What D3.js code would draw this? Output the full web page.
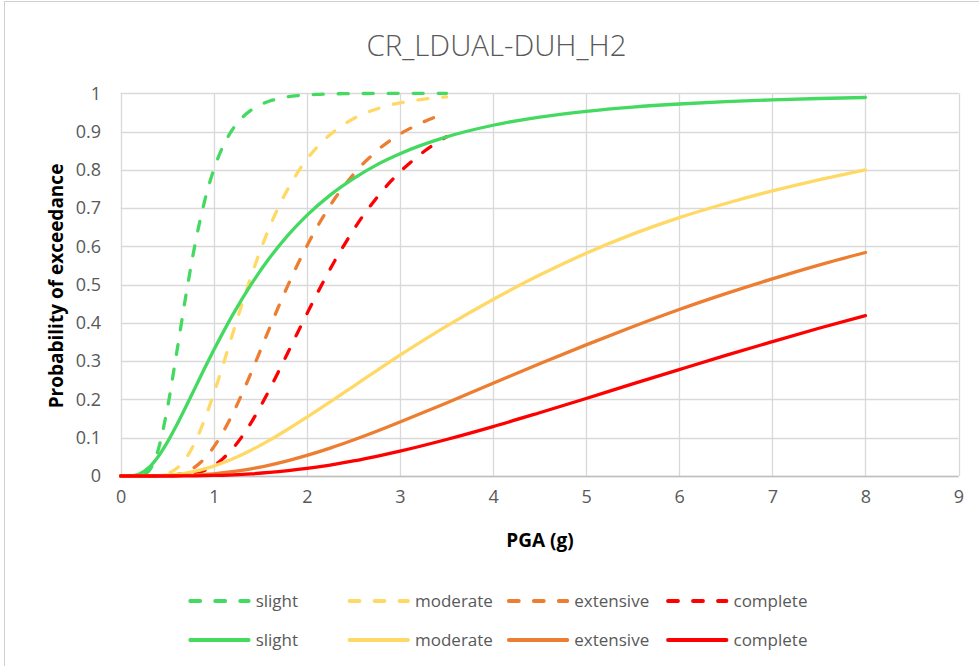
<!DOCTYPE html>
<html><head><meta charset="utf-8">
<script src="https://cdn.jsdelivr.net/npm/d3@7"></script>
<style>
html,body{margin:0;padding:0;background:#fff;}
svg{display:block;font-family:"Open Sans",sans-serif;}
</style></head>
<body><svg id="c" width="979" height="666"></svg>
<script>
const title = "CR_LDUAL-DUH_H2";
const xTicks = [0,1,2,3,4,5,6,7,8,9];
const yTicks = [0,0.1,0.2,0.3,0.4,0.5,0.6,0.7,0.8,0.9,1];
const seriesNames = ["slight","moderate","extensive","complete"];
const seriesColors = ["#44D960","#FFD966","#ED7D31","#FF0000"];

const dashedX = [0,0.1,0.2,0.3,0.4,0.5,0.6,0.7,0.8,0.9,1.0,1.1,1.2,1.3,1.4,1.5,1.6,1.7,1.8,1.9,2.0,2.1,2.2,2.3,2.4,2.5,2.6,2.7,2.8,2.9,3.0,3.1,3.2,3.3,3.4,3.5];
const dashedSlight = [0,0,0.0005,0.0125,0.066,0.175,0.320,0.471,0.607,0.717,0.801,0.862,0.905,0.935,0.956,0.970,0.980,0.986,0.991,0.994,0.996,0.997,0.998,0.9986,0.999,0.9993,0.9995,0.9997,0.9998,0.9998,0.9999,0.9999,0.9999,1,1,1];
const dashedModerate = [0,0,0,0.0001,0.001,0.006,0.0195,0.0465,0.089,0.147,0.2155,0.291,0.370,0.447,0.521,0.589,0.651,0.705,0.752,0.793,0.828,0.857,0.8815,0.902,0.919,0.9335,0.9455,0.955,0.963,0.970,0.975,0.979,0.983,0.986,0.9885,0.9905];
const dashedExtensive = [0,0,0,0,0,0.001,0.0037,0.0106,0.024,0.0455,0.076,0.115,0.161,0.213,0.269,0.328,0.387,0.445,0.5,0.5525,0.601,0.6465,0.687,0.725,0.758,0.788,0.815,0.838,0.8595,0.8776,0.8936,0.907,0.9195,0.930,0.9396,0.9476];
const dashedComplete = [0,0,0,0,0,0.0001,0.0007,0.0024,0.0066,0.0143,0.0271,0.0458,0.0708,0.102,0.139,0.181,0.2266,0.275,0.3245,0.3745,0.4237,0.472,0.518,0.5626,0.6035,0.6425,0.679,0.7114,0.742,0.7696,0.7946,0.8166,0.837,0.8554,0.8718,0.8864];

const solidX = [0,0.1,0.2,0.3,0.4,0.5,0.6,0.7,0.8,0.9,1.0,1.2,1.4,1.6,1.8,2.0,2.25,2.5,2.75,3,3.5,4,4.5,5,5.5,6,6.5,7,7.5,8];
const solidSlight = [0,0.0003,0.0052,0.0214,0.0498,0.0879,0.1326,0.181,0.231,0.281,0.329,0.4197,0.5,0.570,0.630,0.681,0.734,0.777,0.813,0.842,0.886,0.9165,0.938,0.953,0.964,0.972,0.978,0.983,0.9864,0.989];
const solidModerate = [0,0,0,0.0002,0.0008,0.0021,0.0043,0.0078,0.0125,0.0185,0.0259,0.0443,0.0672,0.0936,0.1228,0.1536,0.1938,0.2345,0.2756,0.3156,0.3917,0.4613,0.525,0.582,0.632,0.675,0.712,0.745,0.774,0.800];
const solidExtensive = [0,0,0,0,0,0.0003,0.0007,0.0014,0.0024,0.0039,0.0058,0.0112,0.0188,0.0285,0.0402,0.0537,0.0728,0.094,0.1168,0.141,0.191,0.2423,0.2935,0.3427,0.390,0.435,0.4765,0.515,0.551,0.584];
const solidComplete = [0,0,0,0,0,0,0.0001,0.0003,0.0005,0.0009,0.0014,0.0031,0.0056,0.0092,0.014,0.0198,0.0287,0.0393,0.0515,0.0649,0.0953,0.129,0.1653,0.2025,0.2406,0.278,0.315,0.351,0.386,0.419];

const dashedSeries = [dashedSlight,dashedModerate,dashedExtensive,dashedComplete];
const solidSeries = [solidSlight,solidModerate,solidExtensive,solidComplete];

const svg = d3.select("#c");
const textColor = "#595959";
const gridColor = "#d9d9d9";

// chart border
svg.append("rect").attr("x",4.5).attr("y",1.5).attr("width",1000).attr("height",700)
  .attr("fill","#fff").attr("stroke","#d0d0d0").attr("stroke-width",1);

const x = d3.scaleLinear().domain([0,9]).range([120.7,958.5]);
const y = d3.scaleLinear().domain([0,1]).range([476,93.3]);

// title
svg.append("text").attr("x",496.5).attr("y",56).attr("text-anchor","middle")
  .attr("font-size",29.4).attr("font-weight",300).attr("fill",textColor).text(title);

// gridlines
const g = svg.append("g");
g.selectAll(".hg").data(yTicks).join("line")
  .attr("x1",x(0)).attr("x2",x(9)).attr("y1",d=>Math.round(y(d))+0.5).attr("y2",d=>Math.round(y(d))+0.5)
  .attr("stroke",gridColor).attr("stroke-width",1.3);
g.selectAll(".vg").data(xTicks).join("line")
  .attr("y1",y(0)).attr("y2",y(1)).attr("x1",d=>Math.round(x(d))+0.5).attr("x2",d=>Math.round(x(d))+0.5)
  .attr("stroke",gridColor).attr("stroke-width",1.3);
svg.append("line").attr("x1",x(0)).attr("x2",x(9)).attr("y1",Math.round(y(0))+0.5).attr("y2",Math.round(y(0))+0.5)
  .attr("stroke","#bfbfbf").attr("stroke-width",1.3);

// axes
const xAxis = d3.axisBottom(x).tickValues(xTicks).tickSize(0).tickPadding(0).tickFormat(d3.format("d"));
const xg = svg.append("g").attr("transform",`translate(0,${y(0)+14})`).call(xAxis);
xg.select(".domain").remove();
xg.selectAll("text").attr("font-size",18).attr("fill",textColor).attr("font-family","Open Sans").attr("dy","0.71em");

const yAxis = d3.axisLeft(y).tickValues(yTicks).tickSize(0).tickPadding(0).tickFormat(d=>d===0||d===1?String(d):d3.format(".1f")(d));
const yg = svg.append("g").attr("transform",`translate(101,0)`).call(yAxis);
yg.select(".domain").remove();
yg.selectAll("text").attr("font-size",18).attr("fill",textColor).attr("font-family","Open Sans");

// axis titles
svg.append("text").attr("transform","translate(63,286) rotate(-90)").attr("text-anchor","middle")
  .attr("font-size",19).attr("font-weight",700).attr("fill","#000").text("Probability of exceedance");
svg.append("text").attr("x",540).attr("y",547).attr("text-anchor","middle")
  .attr("font-size",19).attr("font-weight",700).attr("fill","#000").text("PGA (g)");

const line = d3.line().curve(d3.curveMonotoneX);
const dash = "10,15";

dashedSeries.forEach((vals,i)=>{
  svg.append("path").attr("d",line(dashedX.map((xv,j)=>[x(xv),y(vals[j])])))
    .attr("fill","none").attr("stroke",seriesColors[i]).attr("stroke-width",3.3)
    .attr("stroke-dasharray",dash).attr("stroke-linecap","round").attr("stroke-linejoin","round");
});
solidSeries.forEach((vals,i)=>{
  svg.append("path").attr("d",line(solidX.map((xv,j)=>[x(xv),y(vals[j])])))
    .attr("fill","none").attr("stroke",seriesColors[i]).attr("stroke-width",3.3)
    .attr("stroke-linecap","round").attr("stroke-linejoin","round");
});

// legend
const legX = [188.7,348,507.3,666.5];
const rows = [{y:601,dashed:true},{y:640,dashed:false}];
rows.forEach(r=>{
  seriesNames.forEach((n,i)=>{
    svg.append("line").attr("x1",legX[i]+1.5).attr("x2",legX[i]+60).attr("y1",r.y).attr("y2",r.y)
      .attr("stroke",seriesColors[i]).attr("stroke-width",3.8).attr("stroke-linecap","round")
      .attr("stroke-dasharray",r.dashed?dash:null);
    svg.append("text").attr("x",legX[i]+67).attr("y",r.y).attr("dy","0.35em")
      .attr("font-size",17).attr("fill",textColor).text(n);
  });
});
</script></body></html>
